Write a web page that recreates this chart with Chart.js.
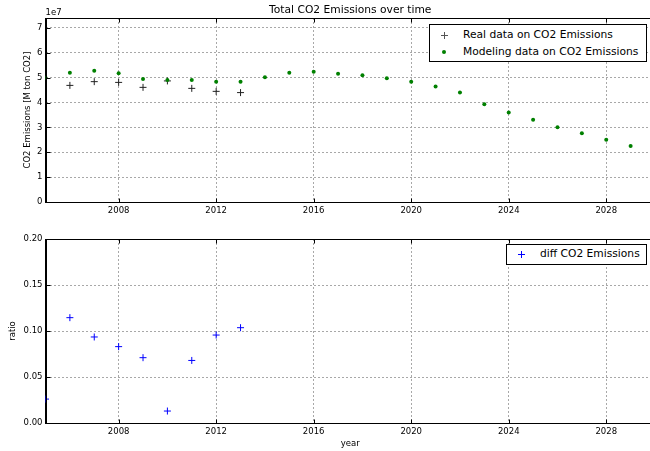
<!DOCTYPE html>
<html>
<head>
<meta charset="utf-8">
<script src="https://cdn.jsdelivr.net/npm/chart.js@4.4.1/dist/chart.umd.min.js"></script>
<style>
  body { margin: 0; background: #fff; overflow: hidden; }
  #wrap { position: relative; width: 650px; height: 451px; overflow: hidden; background: #fff; }
  canvas { position: absolute; left: 0; }
  #topChart { top: 0; }
  #bottomChart { top: 225px; }
  .legend { position: absolute; box-sizing: border-box; border: 1px solid #000; background: #fff;
            font-family: 'DejaVu Sans', sans-serif; font-size: 10.7px; color: #000; }
  .legend .row { position: absolute; left: 0; right: 0; height: 14px; line-height: 14px; }
  .legend .txt { position: absolute; white-space: nowrap; }
  .mk-cross { position: absolute; width: 7px; height: 7px; }
  .mk-cross::before, .mk-cross::after { content: ''; position: absolute; background: currentColor; }
  .mk-cross::before { left: 0; top: 3px; width: 7px; height: 1px; }
  .mk-cross::after { left: 3px; top: 0; width: 1px; height: 7px; }
  .mk-dot { position: absolute; width: 4px; height: 4px; border-radius: 50%; background: #008000; }
</style>
</head>
<body>
<div id="wrap">
  <canvas id="topChart" width="660" height="225"></canvas>
  <canvas id="bottomChart" width="660" height="226"></canvas>

  <div class="legend" style="left:429px; top:24px; width:218px; height:38px;">
    <div class="row" style="top:3px;">
      <span class="mk-cross" style="left:11px; top:4px; color:#555;"></span>
      <span class="txt" style="left:33px;">Real data on CO2 Emissions</span>
    </div>
    <div class="row" style="top:20px;">
      <span class="mk-dot" style="left:12px; top:5px;"></span>
      <span class="txt" style="left:33px;">Modeling data on CO2 Emissions</span>
    </div>
  </div>

  <div class="legend" style="left:506px; top:244px; width:141px; height:21px;">
    <div class="row" style="top:2px;">
      <span class="mk-cross" style="left:11px; top:4px; color:#0000ff;"></span>
      <span class="txt" style="left:33px;">diff CO2 Emissions</span>
    </div>
  </div>
</div>

<script>
// Data
const realYears = [2006, 2007, 2008, 2009, 2010, 2011, 2012, 2013];
const realCO2 = [4.69e7, 4.84e7, 4.81e7, 4.61e7, 4.87e7, 4.57e7, 4.45e7, 4.40e7];

const modelYears = [2005, 2006, 2007, 2008, 2009, 2010, 2011, 2012, 2013, 2014, 2015, 2016, 2017,
                    2018, 2019, 2020, 2021, 2022, 2023, 2024, 2025, 2026, 2027, 2028, 2029];
const modelCO2 = [5.00e7, 5.20e7, 5.28e7, 5.18e7, 4.95e7, 4.91e7, 4.91e7, 4.84e7, 4.84e7, 5.02e7,
                  5.20e7, 5.24e7, 5.16e7, 5.10e7, 4.98e7, 4.84e7, 4.65e7, 4.40e7, 3.93e7, 3.60e7,
                  3.31e7, 3.01e7, 2.76e7, 2.50e7, 2.25e7];

const diffYears = [2005, 2006, 2007, 2008, 2009, 2010, 2011, 2012, 2013];
const diffRatio = [0.026, 0.1145, 0.0935, 0.083, 0.071, 0.013, 0.068, 0.0956, 0.1036];

// Tick labels
const yearTicks = [2008, 2012, 2016, 2020, 2024, 2028];
const co2Ticks = [0, 1e7, 2e7, 3e7, 4e7, 5e7, 6e7, 7e7];
const ratioTicks = [0, 0.05, 0.10, 0.15, 0.20];

const FONT = "'DejaVu Sans', sans-serif";
const tickFont = { family: FONT, size: 8.5 };
const gridStyle = { color: '#a8a8a8', lineWidth: 1, drawTicks: false };
// in v4 border.dash is the dash of the grid lines; the frame is redrawn solid below
const borderStyle = { display: true, color: '#000', width: 1, dash: [2, 2] };

function toPoints(xs, ys) {
    return xs.map((x, i) => ({ x: x, y: ys[i] }));
}

// Frame round the plot area plus inward ticks (classic matplotlib look)
const framePlugin = {
    id: 'frame',
    afterDraw(chart) {
        const { ctx, chartArea: a, scales } = chart;
        const L = Math.round(a.left) + 0.5, T = Math.round(a.top) + 0.5;
        const R = Math.round(a.right) + 0.5, B = Math.round(a.bottom) + 0.5;
        ctx.save();
        ctx.strokeStyle = '#000';
        ctx.lineWidth = 1;
        ctx.setLineDash([]);
        ctx.strokeRect(L, T, R - L, B - T);
        ctx.beginPath();
        scales.x.ticks.forEach(t => {
            const px = Math.round(scales.x.getPixelForValue(t.value)) + 0.5;
            ctx.moveTo(px, B); ctx.lineTo(px, B - 4);
            ctx.moveTo(px, T); ctx.lineTo(px, T + 4);
        });
        scales.y.ticks.forEach(t => {
            const py = Math.round(scales.y.getPixelForValue(t.value)) + 0.5;
            ctx.moveTo(L, py); ctx.lineTo(L + 4, py);
            ctx.moveTo(R, py); ctx.lineTo(R - 4, py);
        });
        ctx.stroke();
        ctx.restore();
    }
};

// Title over the plot area and the offset text "1e7"
function headerPlugin(title, offsetText) {
    return {
        id: 'header',
        afterDraw(chart) {
            const { ctx, chartArea: a } = chart;
            ctx.save();
            ctx.fillStyle = '#000';
            ctx.textBaseline = 'middle';
            if (title) {
                ctx.font = '10.7px ' + FONT;
                ctx.textAlign = 'center';
                ctx.fillText(title, (a.left + a.right) / 2, 10);
            }
            if (offsetText) {
                ctx.font = '8.5px ' + FONT;
                ctx.textAlign = 'left';
                ctx.fillText(offsetText, a.left, 12.5);
            }
            ctx.restore();
        }
    };
}

function xAxis(showTitle, height) {
    return {
        type: 'linear',
        min: 2005,
        max: 2030,
        afterBuildTicks: s => { s.ticks = yearTicks.map(v => ({ value: v })); },
        afterFit: s => { s.height = height; },
        ticks: { font: tickFont, color: '#000', padding: 4, maxRotation: 0, callback: v => String(v) },
        grid: gridStyle,
        border: borderStyle,
        title: {
            display: showTitle,
            text: 'year',
            font: tickFont,
            color: '#000',
            padding: { top: 0, bottom: 2 }
        }
    };
}

function yAxis(min, max, tickList, label, titlePad, fmt) {
    return {
        type: 'linear',
        min: min,
        max: max,
        afterBuildTicks: s => { s.ticks = tickList.map(v => ({ value: v })); },
        afterFit: s => { s.width = 45.5; },
        ticks: { font: tickFont, color: '#000', padding: 3, callback: fmt },
        grid: gridStyle,
        border: borderStyle,
        title: {
            display: true,
            text: label,
            font: tickFont,
            color: '#000',
            padding: { top: titlePad, bottom: 0 }
        }
    };
}

new Chart(document.getElementById('topChart'), {
    type: 'scatter',
    data: {
        datasets: [
            {
                label: 'Real data on CO2 Emissions',
                data: toPoints(realYears, realCO2),
                pointStyle: 'cross',
                pointRadius: 3.5,
                borderColor: '#222',
                backgroundColor: '#222',
                borderWidth: 1,
                order: 2
            },
            {
                label: 'Modeling data on CO2 Emissions',
                data: toPoints(modelYears, modelCO2),
                pointStyle: 'circle',
                pointRadius: 2,
                borderColor: '#008000',
                backgroundColor: '#008000',
                borderWidth: 0,
                order: 1
            }
        ]
    },
    options: {
        responsive: false,
        animation: false,
        events: [],
        layout: { padding: { top: 18, right: 5, left: 0, bottom: 0 } },
        scales: {
            x: xAxis(false, 23),
            y: yAxis(0, 7.4e7, co2Ticks, 'CO2 Emissions [M ton CO2]', 23, v => String(Math.round(v / 1e7)))
        },
        plugins: { legend: { display: false }, tooltip: { enabled: false } }
    },
    plugins: [framePlugin, headerPlugin('Total CO2 Emissions over time', '1e7')]
});

new Chart(document.getElementById('bottomChart'), {
    type: 'scatter',
    data: {
        datasets: [
            {
                label: 'diff CO2 Emissions',
                data: toPoints(diffYears, diffRatio),
                pointStyle: 'cross',
                pointRadius: 3.5,
                borderColor: '#0000ff',
                backgroundColor: '#0000ff',
                borderWidth: 1
            }
        ]
    },
    options: {
        responsive: false,
        animation: false,
        events: [],
        layout: { padding: { top: 14, right: 5, left: 0, bottom: 0 } },
        scales: {
            x: xAxis(true, 28),
            y: yAxis(0, 0.2, ratioTicks, 'ratio', 8, v => v.toFixed(2))
        },
        plugins: { legend: { display: false }, tooltip: { enabled: false } }
    },
    plugins: [framePlugin]
});
</script>
</body>
</html>
